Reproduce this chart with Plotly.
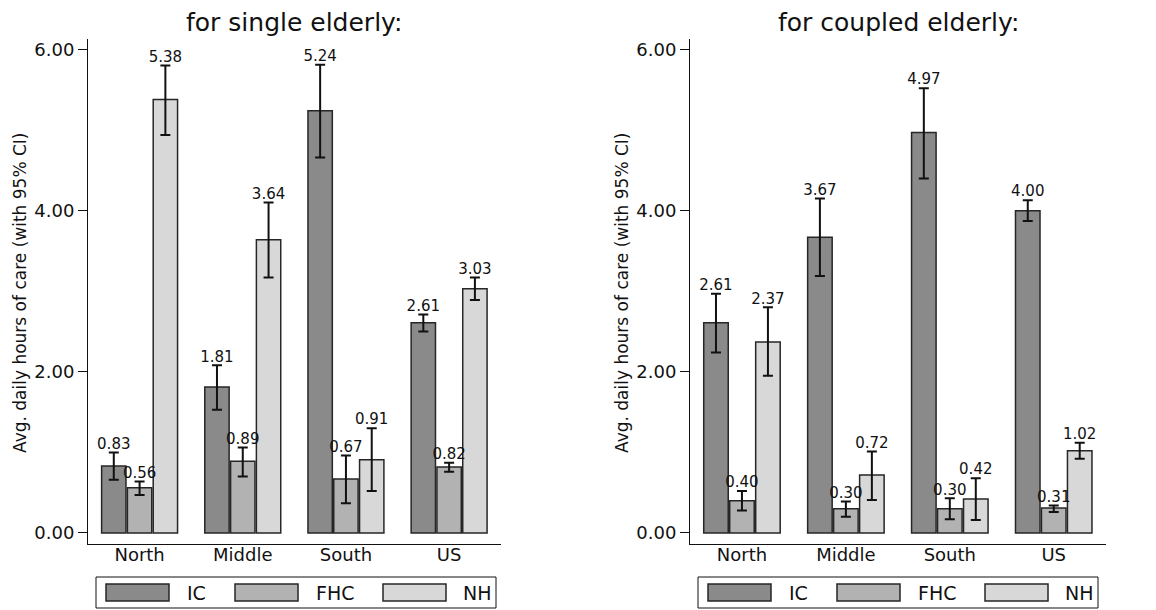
import plotly.graph_objects as go

# ---------------- data ----------------
regions = ["North", "Middle", "South", "US"]
services = ["IC", "FHC", "NH"]

single_ic = [0.83, 1.81, 5.24, 2.61]
single_ic_lo = [0.66, 1.53, 4.66, 2.50]
single_ic_hi = [1.00, 2.08, 5.81, 2.71]
single_fhc = [0.56, 0.89, 0.67, 0.82]
single_fhc_lo = [0.47, 0.70, 0.37, 0.76]
single_fhc_hi = [0.64, 1.06, 0.96, 0.87]
single_nh = [5.38, 3.64, 0.91, 3.03]
single_nh_lo = [4.94, 3.17, 0.52, 2.89]
single_nh_hi = [5.80, 4.10, 1.30, 3.17]

coupled_ic = [2.61, 3.67, 4.97, 4.00]
coupled_ic_lo = [2.24, 3.19, 4.40, 3.87]
coupled_ic_hi = [2.97, 4.15, 5.52, 4.13]
coupled_fhc = [0.40, 0.30, 0.30, 0.31]
coupled_fhc_lo = [0.28, 0.20, 0.17, 0.26]
coupled_fhc_hi = [0.52, 0.39, 0.43, 0.34]
coupled_nh = [2.37, 0.72, 0.42, 1.02]
coupled_nh_lo = [1.95, 0.41, 0.16, 0.92]
coupled_nh_hi = [2.80, 1.01, 0.68, 1.12]

y_ticks = [0, 2, 4, 6]
panel_titles = ["for single elderly:", "for coupled elderly:"]
y_title = "Avg. daily hours of care (with 95% CI)"

# ---------------- style ----------------
PAGE_OFF = 8            # browser body margin
W, H = 1156 - PAGE_OFF, 610 - PAGE_OFF
FONT = "DejaVu Sans"
colors = ["#8a8a8a", "#b2b2b2", "#d8d8d8"]
outline = "#262626"
offsets = [-0.25, 0.0, 0.25]
bar_w = 0.236


def px(x):
    return (x - PAGE_OFF) / W


def py(y):
    return 1 - (y - PAGE_OFF) / H


panels = [
    dict(means=[single_ic, single_fhc, single_nh],
         los=[single_ic_lo, single_fhc_lo, single_nh_lo],
         his=[single_ic_hi, single_fhc_hi, single_nh_hi],
         dom=(88, 500.7), xa="x", ya="y", tx=294, ytx=20, legL=96),
    dict(means=[coupled_ic, coupled_fhc, coupled_nh],
         los=[coupled_ic_lo, coupled_fhc_lo, coupled_nh_lo],
         his=[coupled_ic_hi, coupled_fhc_hi, coupled_nh_hi],
         dom=(690, 1105.7), xa="x2", ya="y2", tx=898, ytx=622, legL=698),
]

fig = go.Figure()
shapes = []
annotations = []

for p in panels:
    for j, name in enumerate(services):
        xs = [i + offsets[j] for i in range(len(regions))]
        m, lo, hi = p["means"][j], p["los"][j], p["his"][j]
        fig.add_trace(go.Bar(
            x=xs, y=m, width=bar_w, name=name,
            marker=dict(color=colors[j], line=dict(color=outline, width=1.5)),
            error_y=dict(type="data", symmetric=False,
                         array=[h - v for h, v in zip(hi, m)],
                         arrayminus=[v - l for v, l in zip(m, lo)],
                         color="#111111", thickness=2, width=5),
            xaxis=p["xa"], yaxis=p["ya"], showlegend=False,
        ))
    for j, name in enumerate(services):
        xs = [i + offsets[j] for i in range(len(regions))]
        m, hi = p["means"][j], p["his"][j]
        fig.add_trace(go.Scatter(
            x=xs, y=hi, mode="text", text=[f"{v:.2f}" for v in m],
            textposition="top center",
            textfont=dict(family=FONT, size=15, color="#111111"),
            xaxis=p["xa"], yaxis=p["ya"], showlegend=False, hoverinfo="skip",
        ))

    # legend box
    L = p["legL"]
    shapes.append(dict(type="rect", xref="paper", yref="paper",
                       x0=px(L), x1=px(L + 400), y0=py(608), y1=py(577),
                       line=dict(color="#111111", width=1), fillcolor="white"))
    for j, name in enumerate(services):
        sx = L + [10, 139, 287][j]
        shapes.append(dict(type="rect", xref="paper", yref="paper",
                           x0=px(sx), x1=px(sx + 63), y0=py(601), y1=py(584),
                           line=dict(color=outline, width=1.5), fillcolor=colors[j]))
        annotations.append(dict(text=name, xref="paper", yref="paper",
                                x=px(L + [89, 218, 365][j]), y=py(592.5),
                                xanchor="left", yanchor="middle", showarrow=False,
                                font=dict(family=FONT, size=19, color="#111111")))
    # y title
    annotations.append(dict(text=y_title, xref="paper", yref="paper",
                            x=px(p["ytx"]), y=py(293), textangle=-90,
                            xanchor="center", yanchor="middle", showarrow=False,
                            font=dict(family=FONT, size=17, color="#111111")))

for k, p in enumerate(panels):
    annotations.append(dict(text=panel_titles[k], xref="paper", yref="paper",
                            x=px(p["tx"]), y=py(22), xanchor="center", yanchor="middle",
                            showarrow=False, font=dict(family=FONT, size=25, color="#111111")))

axis_common_x = dict(range=[-0.5, 3.5], tickvals=list(range(len(regions))), ticktext=regions,
                     showline=True, linecolor="#111111", linewidth=1, ticks="", ticklen=0,
                     ticklabelstandoff=-6,
                     showgrid=False, zeroline=False, fixedrange=True,
                     tickfont=dict(family=FONT, size=18, color="#111111"))
axis_common_y = dict(range=[-0.137, 6.13], tickvals=y_ticks, tickformat=".2f",
                     showline=True, linecolor="#111111", linewidth=1,
                     ticks="outside", ticklen=9, tickwidth=1, tickcolor="#111111",
                     showgrid=False, zeroline=False,
                     tickfont=dict(family=FONT, size=18, color="#111111"))

ydom = [py(544), py(39)]
fig.update_layout(
    width=W, height=H,
    margin=dict(l=0, r=0, t=0, b=0),
    paper_bgcolor="white", plot_bgcolor="white",
    barmode="overlay", showlegend=False,
    xaxis=dict(domain=[px(panels[0]["dom"][0]), px(panels[0]["dom"][1])], anchor="y", **axis_common_x),
    yaxis=dict(domain=ydom, anchor="x", **axis_common_y),
    xaxis2=dict(domain=[px(panels[1]["dom"][0]), px(panels[1]["dom"][1])], anchor="y2", **axis_common_x),
    yaxis2=dict(domain=ydom, anchor="x2", **axis_common_y),
    shapes=shapes, annotations=annotations,
    font=dict(family=FONT, color="#111111"),
)

fig.write_html("out.html")
